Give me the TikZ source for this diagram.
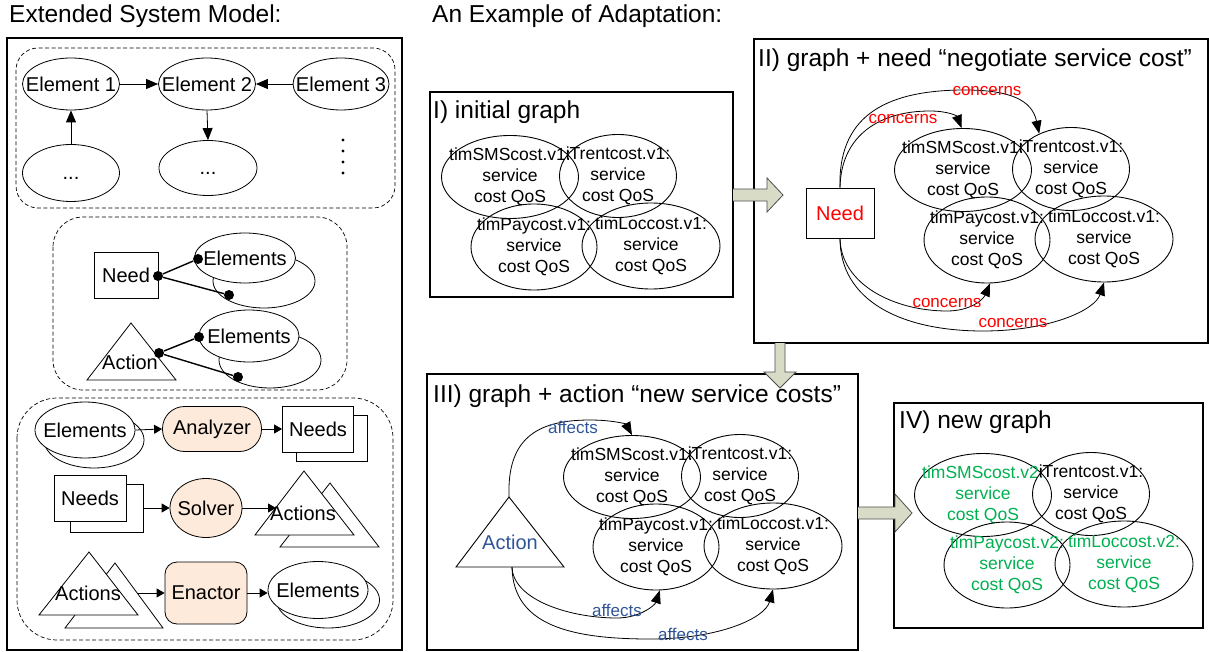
\documentclass[tikz,border=0pt]{standalone}
\usepackage{fontspec}
\setmainfont{Liberation Sans}
\usetikzlibrary{arrows.meta,shapes.geometric,calc}

\definecolor{peach}{HTML}{FDEADA}
\definecolor{blockfill}{HTML}{D8DCC6}
\definecolor{blockline}{HTML}{4D4D4D}
\definecolor{needred}{HTML}{FF0000}
\definecolor{actblue}{HTML}{2F5597}
\definecolor{newgreen}{HTML}{00B050}

\tikzset{
  heading/.style={anchor=base west, inner sep=0pt, font=\fontsize{24.5}{29}\selectfont},
  lbl/.style={font=\fontsize{20}{23}\selectfont},
  elem/.style={draw, ellipse, inner xsep=-12pt, inner ysep=0pt, line width=0.8pt, lbl},
  svc/.style={draw, ellipse, inner xsep=-15pt, inner ysep=-2pt, line width=0.9pt,
              align=center, font=\fontsize{17.5}{21}\selectfont},
  grp/.style={draw, line width=0.7pt, dash pattern=on 4pt off 2.5pt},
  panel/.style={draw, line width=1.7pt},
  arrA/.style={-{Triangle[length=12pt,width=10pt]}, line width=0.8pt},
  arrB/.style={-{Triangle[length=8pt,width=9pt]}, line width=0.8pt},
  conn/.style={-{Triangle[length=13pt,width=10pt]}, line width=0.8pt},
  dot/.style={circle, fill, inner sep=0pt, minimum size=10pt},
  link/.style={line width=1.4pt},
  conclbl/.style={text=needred, inner sep=0pt, font=\fontsize{17}{20}\selectfont},
  afflbl/.style={text=actblue, inner sep=0pt, font=\fontsize{17}{20}\selectfont},
  blockarrow/.style={fill=blockfill, draw=blockline, line width=0.8pt, line join=miter},
  proc/.style={draw, fill=peach, line width=0.8pt, lbl, inner sep=0pt},
  doc/.style={draw, fill=white, line width=0.8pt, lbl, inner sep=0pt,
              minimum width=71pt, minimum height=46pt},
  tri/.style={draw, fill=white, line width=0.8pt, line join=miter},
}

% four overlapping service-cost ellipses: #1 name prefix, #2 position,
% #3..#6 text colours of the SMS, iTrent, Pay and Loc entries,
% #7 version of the SMS, Pay and Loc entries
\newcommand\qosgroup[7]{%
  \begin{scope}[shift={#2}]
    \node[svc, text=#3, minimum width=137pt, minimum height=83pt] (#1SMS) at (0,0)
      {timSMScost.#7:\\service\\cost QoS};
    \node[svc, text=#4, minimum width=117pt, minimum height=83pt] (#1Trent) at (108,-1)
      {iTrentcost.v1:\\service\\cost QoS};
    \node[svc, text=#5, minimum width=126pt, minimum height=86pt] (#1Pay) at (24,70)
      {timPaycost.#7:\\service\\cost QoS};
    \node[svc, text=#6, minimum width=138pt, minimum height=86pt] (#1Loc) at (141,69)
      {timLoccost.#7:\\service\\cost QoS};
  \end{scope}}

\begin{document}
\begin{tikzpicture}[x=1pt,y=-1pt]
\useasboundingbox (0,0) rectangle (1209,652);

% headings
\node[heading] (hleft) at (9,23) {Extended System Model:};
\node[heading] (hright) at (432,23) {An Example of Adaptation:};

% ---------------- extended system model ----------------
\draw[panel] (7,38) rectangle (402,650);

% elements and their relations
\draw[grp, rounded corners=22pt] (16,48) rectangle (395,208);
\node[elem, minimum width=97pt, minimum height=52pt] (e1) at (71,84) {Element 1};
\node[elem, minimum width=97pt, minimum height=52pt] (e2) at (207,84) {Element 2};
\node[elem, minimum width=96pt, minimum height=52pt] (e3) at (341,84) {Element 3};
\node[elem, minimum width=97pt, minimum height=57pt, text height=14pt, text depth=0pt] (eA) at (71,173) {...};
\node[elem, minimum width=98pt, minimum height=55pt, text height=14pt, text depth=0pt] (eB) at (208,168) {...};
\foreach \yy in {140,151,162,173} \fill (343,\yy) circle (1.7pt);
\draw[arrA] (e1) -- (e2);
\draw[arrA] (e3) -- (e2);
\draw[arrA] (e2.south) -- (eB.north);
\draw[arrA] (eA.north) -- (e1.south);

% needs and actions attached to elements
\draw[grp, rounded corners=30pt] (53,217) rectangle (347,390);
\node[draw, line width=0.8pt, lbl, minimum width=64pt, minimum height=46pt, inner sep=0pt] (need1) at (126,275) {Need};
\node[elem, fill=white, minimum width=102pt, minimum height=54pt] (els1b) at (264,281) {};
\node[elem, fill=white, minimum width=101pt, minimum height=50pt] (els1f) at (245,258) {Elements};
\node[dot] (d1n) at (158,276) {};
\node[dot] (d1a) at (198,259) {};
\node[dot] (d1b) at (229,295) {};
\draw[link] (d1n) -- (d1a);
\draw[link] (d1n) -- (d1b);

\draw[tri] (131,323) -- (176,380) -- (87,380) -- cycle;
\node[lbl, inner sep=0pt] (act1) at (130,362) {Action};
\node[elem, fill=white, minimum width=102pt, minimum height=56pt] (els2b) at (270,360) {};
\node[elem, fill=white, minimum width=100pt, minimum height=52pt] (els2f) at (249,336) {Elements};
\node[dot] (d2n) at (159,353) {};
\node[dot] (d2a) at (199,337) {};
\node[dot] (d2b) at (238,377) {};
\draw[link] (d2n) -- (d2a);
\draw[link] (d2n) -- (d2b);

% analyzer, solver and enactor
\draw[grp, rounded corners=40pt] (17,398) rectangle (393,640);

\node[elem, fill=white, minimum width=100pt, minimum height=56pt] (in1b) at (94,440) {};
\node[elem, fill=white, minimum width=100pt, minimum height=56pt] (in1f) at (85,430) {Elements};
\node[proc, rounded corners=22pt, minimum width=99pt, minimum height=45pt] (anl) at (212,429) {Analyzer};
\node[doc] (out1b) at (332,438) {};
\node[doc] (out1f) at (318,429) {Needs};
\draw[arrB] (in1f.east) -- (anl.west);
\draw[arrB] (anl.east) -- (out1f.west);

\node[doc, minimum width=73pt, minimum height=48pt] (in2b) at (107,508) {};
\node[doc, minimum width=72pt, minimum height=46pt] (in2f) at (90,498) {Needs};
\node[proc, ellipse, inner xsep=-6pt, minimum width=72pt, minimum height=59pt] (slv) at (206,508) {Solver};
\draw[tri] (330,483) -- (379,547) -- (280,547) -- cycle;
\draw[tri] (304,471) -- (354,535) -- (255,535) -- cycle;
\node[lbl, inner sep=0pt] (out2) at (303,513) {Actions};
\coordinate (out2in) at (276,508);
\draw[arrB] (in2b.east) -- (slv.west);
\draw[arrB] (slv.east) -- (out2in);

\draw[tri] (115,563) -- (163,628) -- (65,628) -- cycle;
\draw[tri] (89,552) -- (138,615) -- (39,615) -- cycle;
\node[lbl, inner sep=0pt] (in3) at (88,593) {Actions};
\coordinate (in3out) at (137,593);
\node[proc, rounded corners=12pt, minimum width=82pt, minimum height=62pt] (enc) at (206,593) {Enactor};
\node[elem, fill=white, minimum width=103pt, minimum height=56pt] (out3b) at (328,600) {};
\node[elem, fill=white, minimum width=100pt, minimum height=57pt] (out3f) at (318,590) {Elements};
\draw[arrB] (in3out) -- (enc.west);
\draw[arrB] (enc.east) -- (enc.east -| out3f.west);

% ---------------- example of adaptation ----------------
% I) initial graph
\draw[panel] (430,92) rectangle (733,297);
\node[heading] (t1) at (433,119) {I) initial graph};
\qosgroup{i}{(510,177)}{black}{black}{black}{black}{v1}

% II) graph with a need
\draw[panel] (754,39) rectangle (1208,343);
\node[heading] (t2) at (758,67) {II) graph + need “negotiate service cost”};
\qosgroup{ii}{(963,170)}{black}{black}{black}{black}{v1}
\node[draw, line width=0.9pt, fill=white, minimum width=68pt, minimum height=50pt, inner sep=0pt,
      text=needred, lbl] (need2) at (840,213) {Need};
\draw[conn] (need2.north) .. controls (838,120) and (880,90) .. (965,90)
  .. controls (1010,90) and (1032,100) .. (iiTrent.132);
\draw[conn] (need2.north) .. controls (841,135) and (880,111) .. (930,111)
  .. controls (948,111) and (957,116) .. (iiSMS.92);
\draw[conn] (need2.south) .. controls (841,285) and (895,311) .. (947,311)
  .. controls (970,311) and (983,300) .. (iiPay.-86);
\draw[conn] (need2.south) .. controls (840,300) and (900,331) .. (983,331)
  .. controls (1050,331) and (1095,310) .. (iiLoc.south);
\node[conclbl] (c1) at (987,91) {concerns};
\node[conclbl] (c2) at (903,119) {concerns};
\node[conclbl] (c3) at (947,303) {concerns};
\node[conclbl] (c4) at (1013,323) {concerns};

% III) graph with an action
\draw[panel] (427,374) rectangle (858,650);
\node[heading] (t3) at (433,402) {III) graph + action “new service costs”};
\qosgroup{iii}{(632,477)}{black}{black}{black}{black}{v1}
\draw[line width=0.9pt, line join=miter] (509,497) -- (564,567) -- (456,567) -- cycle;
\node[lbl, text=actblue, inner sep=0pt] (act3) at (510,542) {Action};
\coordinate (act3top) at (509,497);
\coordinate (act3bot) at (512,567);
\draw[conn] (act3top) .. controls (507,440) and (535,420) .. (590,420)
  .. controls (612,420) and (626,424) .. (iiiSMS.north);
\draw[conn] (act3bot) .. controls (513,600) and (570,618) .. (617,618)
  .. controls (640,618) and (655,605) .. (iiiPay.-85);
\draw[conn] (act3bot) .. controls (513,625) and (570,639) .. (650,639)
  .. controls (720,639) and (765,618) .. (iiiLoc.south);
\node[afflbl] (f1) at (573,427) {affects};
\node[afflbl] (f2) at (617,610) {affects};
\node[afflbl] (f3) at (683,634) {affects};

% IV) new graph
\draw[panel] (894,403) rectangle (1203,628);
\node[heading] (t4) at (899,428) {IV) new graph};
\qosgroup{iv}{(983,495)}{newgreen}{black}{newgreen}{newgreen}{v2}

% block arrows between the stages
\draw[blockarrow] (733,189) -- (767,189) -- (767,178) -- (783,195) -- (767,212) -- (767,201) -- (733,201);
\draw[blockarrow] (775,343) -- (775,372) -- (764,372) -- (780,388) -- (796,372) -- (785,372) -- (785,343);
\draw[blockarrow] (858,507) -- (895,507) -- (895,494) -- (912,513) -- (895,532) -- (895,519) -- (858,519);
\end{tikzpicture}
\end{document}
